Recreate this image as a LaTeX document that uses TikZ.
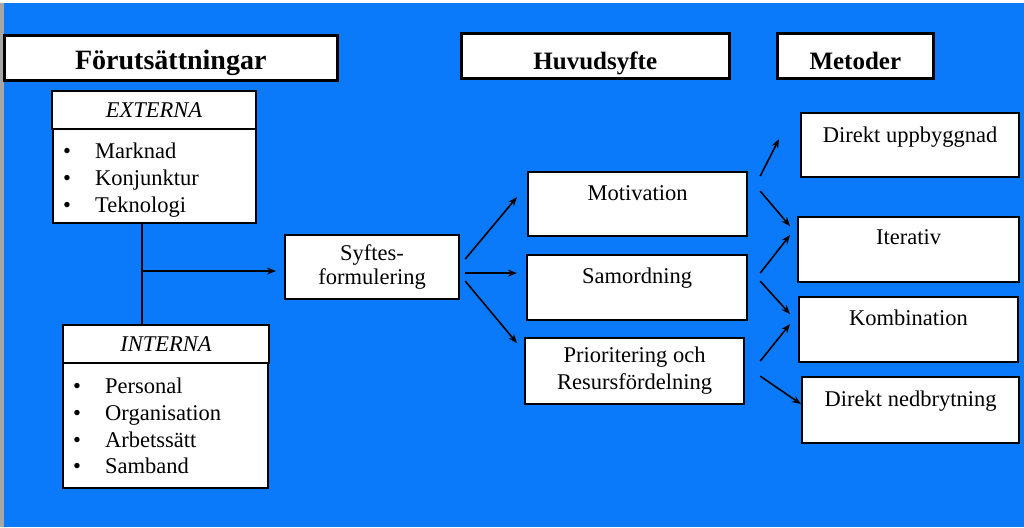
\documentclass[tikz,border=0pt]{standalone}
\usepackage{fontspec}
\setmainfont{Liberation Serif}
\usetikzlibrary{arrows.meta,calc}
\definecolor{bg}{RGB}{10,122,250}
\begin{document}
\begin{tikzpicture}[x=1pt,y=-1pt,
  box/.style={draw=black, line width=2.2pt, fill=white, inner sep=0pt, anchor=north west,
    font=\fontsize{22.5}{25}\selectfont},
  headbox/.style={box, line width=2.6pt, font=\fontsize{25}{28}\selectfont\bfseries},
  itemtxt/.style={anchor=base west, inner sep=0pt, font=\fontsize{22.5}{25}\selectfont},
  bul/.style={anchor=base, inner sep=0pt, font=\fontsize{22.5}{25}\selectfont},
  arr/.style={line width=1.6pt, -{Stealth[length=9pt,width=7pt]}},
  conn/.style={line width=1.6pt}]
\useasboundingbox (0,0) rectangle (1024,527);
\fill[gray!70] (0,0) rectangle (1024,527);
\fill[white] (0,0) rectangle (1024,3);
\fill[bg] (4,3) rectangle (1024,527);

% headers
\node[headbox, minimum width=333pt, text height=34pt, text depth=11pt, font=\fontsize{28}{30}\selectfont\bfseries] (forut) at (3,34) {Förutsättningar};
\node[headbox, minimum width=268pt, text height=36pt, text depth=9pt] (huvud) at (460,32) {Huvudsyfte};
\node[headbox, minimum width=156pt, text height=36pt, text depth=9pt] (metod) at (776,32) {Metoder};

% EXTERNA
\node[box, minimum width=204pt, minimum height=38pt] (ext) at (51,90) {\itshape EXTERNA};
\node[box, minimum width=203pt, minimum height=94pt] (extl) at (52,128) {};
\foreach \t/\yy [count=\i] in {Marknad/158, Konjunktur/185, Teknologi/212}{
  \node[bul] (eb\i) at (67,\yy) {•};
  \node[itemtxt] (et\i) at (95,\yy) {\t};
}

% INTERNA
\node[box, minimum width=206pt, minimum height=38pt] (int) at (62,324) {\itshape INTERNA};
\node[box, minimum width=205pt, minimum height=125pt] (intl) at (62,362) {};
\foreach \t/\yy [count=\i] in {Personal/393, Organisation/420, Arbetssätt/447, Samband/473}{
  \node[bul] (ib\i) at (77,\yy) {•};
  \node[itemtxt] (it\i) at (105,\yy) {\t};
}

% Syftesformulering
\node[box, minimum width=174pt, minimum height=64pt, align=center,
  font=\fontsize{22.5}{24}\selectfont] (syf) at (284,234) {Syftes-\\formulering};

% Huvudsyfte column
\node[box, minimum width=219pt, text height=28pt, text depth=36pt] (mot) at (527,171) {Motivation};
\node[box, minimum width=220pt, text height=28pt, text depth=37pt] (sam) at (526,254) {Samordning};
\node[box, minimum width=219pt, minimum height=66pt, align=center,
  font=\fontsize{22.5}{27}\selectfont] (pri) at (524,337) {Prioritering och\\Resursfördelning};

% Metoder column
\node[box, minimum width=218pt, text height=29pt, text depth=35pt] (dup) at (800,112) {Direkt uppbyggnad};
\node[box, minimum width=221pt, text height=27pt, text depth=38pt] (ite) at (797,216) {Iterativ};
\node[box, minimum width=219pt, text height=28pt, text depth=37pt] (kom) at (798,296) {Kombination};
\node[box, minimum width=217pt, text height=29pt, text depth=37pt] (dne) at (801,376) {Direkt nedbrytning};

% left connectors
\coordinate (j) at (142,271);
\draw[conn] (extl.south -| j) -- (int.north -| j);
\draw[arr, shorten >=8pt] (j) -- (syf.west |- j);

% Syftes -> Huvudsyfte
\draw[arr] ($(syf.east)+(5,-8)$) -- ($(mot.west)+(-10,-7)$);
\draw[arr] ($(syf.east)+(5,6)$) -- ($(sam.west)+(-9,-14.5)$);
\draw[arr] ($(syf.east)+(5,14)$) -- ($(pri.west)+(-7,-28)$);

% Huvudsyfte -> Metoder
\draw[arr] ($(mot.east)+(12,-28)$) -- ($(dup.west)+(-21,-6)$);
\draw[arr] ($(mot.east)+(12,-13)$) -- ($(ite.west)+(-7,-23.5)$);
\draw[arr] ($(sam.east)+(12,-14.5)$) -- ($(ite.west)+(-7,-14.5)$);
\draw[arr] ($(sam.east)+(12,-6.5)$) -- ($(kom.west)+(-8,-15.5)$);
\draw[arr] ($(pri.east)+(15,-10)$) -- ($(kom.west)+(-8,-5.5)$);
\draw[arr] ($(pri.east)+(15,5)$) -- ($(dne.west)+(0,-6)$);
\end{tikzpicture}
\end{document}
